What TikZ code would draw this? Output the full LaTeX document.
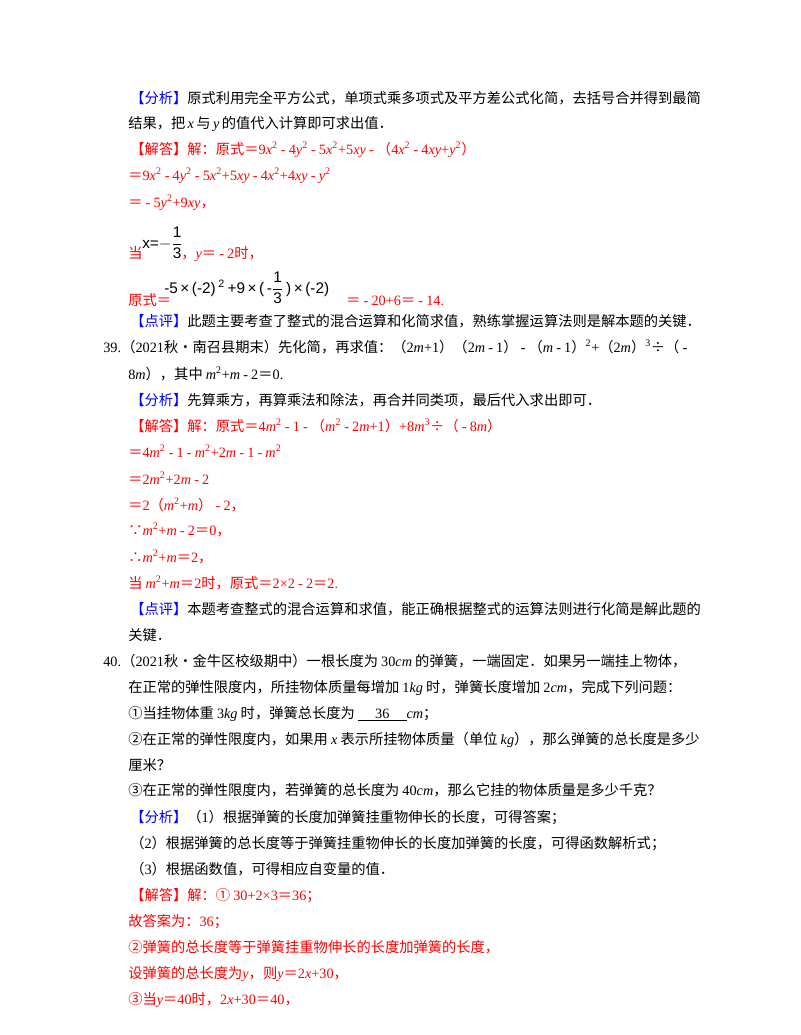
\documentclass[tikz,border=0pt]{standalone}
\usepackage{fontspec}
\setmainfont{Liberation Serif}
\newfontfamily\cjk{Noto Sans CJK SC}
\newfontfamily\fsans{Liberation Sans}
\newcommand\z[1]{{\cjk #1}}
\newcommand\vi[1]{\textit{#1}}
\newcommand\pw[1]{\textsuperscript{#1}}
\newcommand\tsp{\spaceskip=0.22em\relax}
\definecolor{rd}{RGB}{255,0,0}
\definecolor{bl}{RGB}{0,0,255}
\tikzset{t/.style={anchor=base west,inner sep=0pt,font=\fontsize{10.7}{13}\selectfont\tsp},
 r/.style={t,text=rd},
 f/.style={anchor=base west,inner sep=0pt,text=black,font=\fsans\fontsize{11.5}{13}\selectfont}}
\begin{document}
\begin{tikzpicture}[x=0.75pt,y=-0.75pt]
\useasboundingbox (0,0) rectangle (800,1035);
\node[t] (l1) at (130,103) {\textcolor{bl}{\z{【分析】}}\z{原式利用完全平方公式，单项式乘多项式及平方差公式化简，去括号合并得到最简}};
\node[t] (l2) at (128,128) {\z{结果，把}\,\vi{x}\,\z{与}\,\vi{y}\,\z{的值代入计算即可求出值．}};
\node[r] (l3) at (130,154) {\z{【解答】解：原式＝}9\vi{x}\pw2 - 4\vi{y}\pw2 - 5\vi{x}\pw2+5\vi{xy} - \z{（}4\vi{x}\pw2 - 4\vi{xy}+\vi{y}\pw2\z{）}};
\node[r] (l4) at (128,180) {\z{＝}9\vi{x}\pw2 - 4\vi{y}\pw2 - 5\vi{x}\pw2+5\vi{xy} - 4\vi{x}\pw2+4\vi{xy} - \vi{y}\pw2};
\node[r] (l5) at (128,207) {\z{＝} - 5\vi{y}\pw2+9\vi{xy}\z{，}};
\node[r] (l6a) at (128,258) {\z{当}};
\node[f] (l6b) at (142,248) {x=$-\displaystyle\frac{\mbox{1}}{\mbox{3}}$};
\node[r] (l6c) at (181,258) {\z{，}\vi{y}\z{＝} - 2\z{时，}};
\node[r] (l7a) at (128,305) {\z{原式＝}};
\node[f] (l7b) at (164,293) {-5\,×\,(-2)\,\textsuperscript{2}\,+9\,×\,(\,-$\displaystyle\frac{\mbox{1}}{\mbox{3}}$\,)\,×\,(-2)};
\node[r] (l7c) at (346,305) {\z{＝} - 20+6\z{＝} - 14.};
\node[t] (l8) at (130,326) {\textcolor{bl}{\z{【点评】}}\z{此题主要考查了整式的混合运算和化简求值，熟练掌握运算法则是解本题的关键．}};
\node[t] (l9n) at (103,352) {39.};
\node[t] (l9) at (121,352) {\z{（}2021\z{秋•南召县期末）先化简，再求值：（}2\vi{m}+1\z{）（}2\vi{m} - 1\z{）} - \z{（}\vi{m} - 1\z{）}\pw2+\z{（}2\vi{m}\z{）}\pw3\z{÷（} -};
\node[t] (l10) at (128,379) {8\vi{m}\z{），其中} \vi{m}\pw2+\vi{m} - 2\z{＝}0.};
\node[t] (l11) at (130,405) {\textcolor{bl}{\z{【分析】}}\z{先算乘方，再算乘法和除法，再合并同类项，最后代入求出即可．}};
\node[r] (l12) at (130,431) {\z{【解答】解：原式＝}4\vi{m}\pw2 - 1 - \z{（}\vi{m}\pw2 - 2\vi{m}+1\z{）}+8\vi{m}\pw3\z{÷（} - 8\vi{m}\z{）}};
\node[r] (l13) at (128,457) {\z{＝}4\vi{m}\pw2 - 1 - \vi{m}\pw2+2\vi{m} - 1 - \vi{m}\pw2};
\node[r] (l14) at (128,484) {\z{＝}2\vi{m}\pw2+2\vi{m} - 2};
\node[r] (l15) at (128,510) {\z{＝}2\z{（}\vi{m}\pw2+\vi{m}\z{）} - 2\z{，}};
\node[r] (l16) at (128,535) {\z{∵}\vi{m}\pw2+\vi{m} - 2\z{＝}0\z{，}};
\node[r] (l17) at (128,562) {\z{∴}\vi{m}\pw2+\vi{m}\z{＝}2\z{，}};
\node[r] (l18) at (128,588) {\z{当} \vi{m}\pw2+\vi{m}\z{＝}2\z{时，原式＝}2×2 - 2\z{＝}2.};
\node[t] (l19) at (130,614) {\textcolor{bl}{\z{【点评】}}\z{本题考查整式的混合运算和求值，能正确根据整式的运算法则进行化简是解此题的}};
\node[t] (l20) at (128,640) {\z{关键．}};
\node[t] (l21n) at (103,666) {40.};
\node[t] (l21) at (121,666) {\z{（}2021\z{秋•金牛区校级期中）一根长度为} 30\vi{cm} \z{的弹簧，一端固定．如果另一端挂上物体，}};
\node[t] (l22) at (128,692) {\z{在正常的弹性限度内，所挂物体质量每增加} 1\vi{kg} \z{时，弹簧长度增加} 2\vi{cm}\z{，完成下列问题：}};
\node[t] (l23) at (128,718) {\z{①当挂物体重} 3\vi{kg} \z{时，弹簧总长度为}\ \underline{\hspace{1.2em}36\hspace{1.2em}}\vi{cm}\z{；}};
\node[t] (l24) at (128,744) {\z{②在正常的弹性限度内，如果用} \vi{x} \z{表示所挂物体质量（单位} \vi{kg}\z{），那么弹簧的总长度是多少}};
\node[t] (l25) at (128,770) {\z{厘米？}};
\node[t] (l26) at (128,795) {\z{③在正常的弹性限度内，若弹簧的总长度为} 40\vi{cm}\z{，那么它挂的物体质量是多少千克？}};
\node[t] (l27) at (130,822) {\textcolor{bl}{\z{【分析】}}\z{（}1\z{）根据弹簧的长度加弹簧挂重物伸长的长度，可得答案；}};
\node[t] (l28) at (130,848) {\z{（}2\z{）根据弹簧的总长度等于弹簧挂重物伸长的长度加弹簧的长度，可得函数解析式；}};
\node[t] (l29) at (130,874) {\z{（}3\z{）根据函数值，可得相应自变量的值．}};
\node[r] (l30) at (130,900) {\z{【解答】解：①} 30+2×3\z{＝}36\z{；}};
\node[r] (l31) at (128,926) {\z{故答案为：}36\z{；}};
\node[r] (l32) at (128,952) {\z{②弹簧的总长度等于弹簧挂重物伸长的长度加弹簧的长度，}};
\node[r] (l33) at (128,978) {\z{设弹簧的总长度为}\vi{y}\z{，则}\vi{y}\z{＝}2\vi{x}+30\z{，}};
\node[r] (l34) at (128,1004) {\z{③当}\vi{y}\z{＝}40\z{时，}2\vi{x}+30\z{＝}40\z{，}};
\end{tikzpicture}
\end{document}
